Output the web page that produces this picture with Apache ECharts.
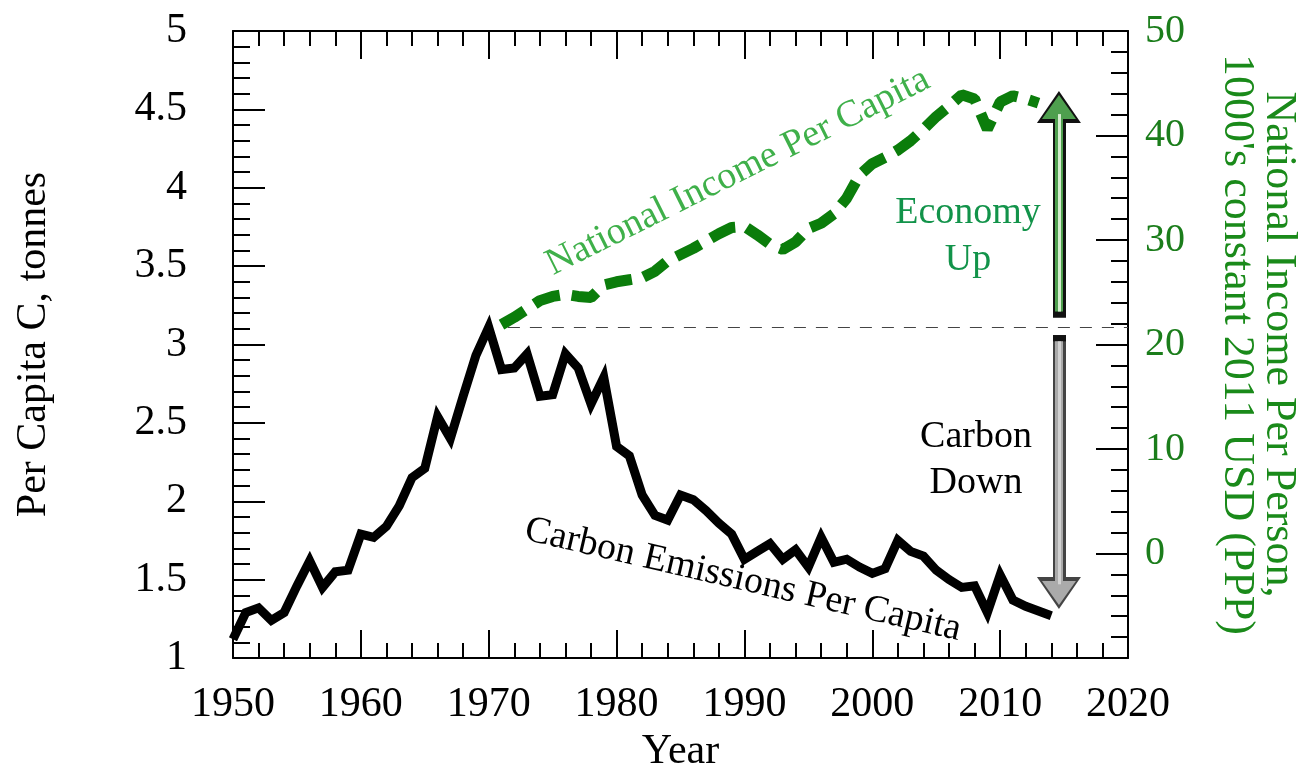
<!DOCTYPE html>
<html>
<head>
<meta charset="utf-8">
<script src="https://cdn.jsdelivr.net/npm/echarts@6/dist/echarts.min.js"></script>
<style>
  html, body { margin: 0; padding: 0; background: #ffffff; }
  #main { width: 1305px; height: 766px; }
</style>
</head>
<body>
<div id="main"></div>
<script>
// carbon emissions per capita, tonnes C (left axis)
var years = [1950, 1951, 1952, 1953, 1954, 1955, 1956, 1957, 1958, 1959,
    1960, 1961, 1962, 1963, 1964, 1965, 1966, 1967, 1968, 1969,
    1970, 1971, 1972, 1973, 1974, 1975, 1976, 1977, 1978, 1979,
    1980, 1981, 1982, 1983, 1984, 1985, 1986, 1987, 1988, 1989,
    1990, 1991, 1992, 1993, 1994, 1995, 1996, 1997, 1998, 1999,
    2000, 2001, 2002, 2003, 2004, 2005, 2006, 2007, 2008, 2009,
    2010, 2011, 2012, 2013, 2014];
var carbon = [1.12, 1.29, 1.32, 1.24, 1.29, 1.46, 1.62, 1.45, 1.55, 1.56,
    1.79, 1.77, 1.84, 1.97, 2.15, 2.21, 2.54, 2.40, 2.67, 2.93,
    3.11, 2.84, 2.85, 2.94, 2.67, 2.68, 2.94, 2.85, 2.62, 2.79,
    2.35, 2.29, 2.04, 1.91, 1.88, 2.04, 2.01, 1.94, 1.86, 1.79,
    1.63, 1.68, 1.73, 1.63, 1.69, 1.58, 1.77, 1.61, 1.63, 1.58,
    1.54, 1.57, 1.75, 1.68, 1.65, 1.56, 1.50, 1.45, 1.46, 1.29,
    1.53, 1.37, 1.33, 1.30, 1.27];

// national income per capita, 1000's 2011 USD (right axis)
var incomeYears = [1971, 1972, 1973, 1974, 1975, 1976, 1977, 1978, 1979,
    1980, 1981, 1982, 1983, 1984, 1985, 1986, 1987, 1988, 1989,
    1990, 1991, 1992, 1993, 1994, 1995, 1996, 1997, 1998, 1999,
    2000, 2001, 2002, 2003, 2004, 2005, 2006, 2007, 2008, 2009,
    2010, 2011, 2012, 2013];
var income = [21.9, 22.6, 23.4, 24.2, 24.6, 24.8, 24.6, 24.5, 25.7,
    26.0, 26.2, 26.4, 27.0, 28.0, 28.6, 29.2, 29.9, 30.6, 31.2,
    31.3, 30.5, 29.6, 29.1, 29.8, 31.1, 31.6, 32.5, 34.0, 36.2,
    37.3, 37.9, 38.6, 39.5, 40.6, 41.8, 42.8, 43.9, 43.5, 40.6,
    43.2, 43.8, 43.5, 43.1];

// reference line + arrows (left axis units)
var peakYear = 1971.5;
var peakCarbon = 3.11;
var arrowYear = 2014.6;
var upArrow = [3.17, 3.21, 4.515, 4.47];     // cap bottom, fill bottom, head centre, highlight top
var downArrow = [3.06, 3.02, 1.415, 1.47];   // cap top, fill top, head centre, highlight end

var serif = '"Liberation Serif", "Times New Roman", serif';

var carbonData = years.map(function (y, i) { return [y, carbon[i]]; });
var incomeData = incomeYears.map(function (y, i) { return [y, income[i]]; });

// one layer of an arrow, drawn as a markLine on an empty series
function arrowLayer(from, to, width, color, head) {
    return {
        type: 'line',
        yAxisIndex: 0,
        data: [],
        silent: true,
        markLine: {
            silent: true,
            animation: false,
            symbol: ['none', head ? 'triangle' : 'none'],
            symbolSize: head || 0,
            label: { show: false },
            emphasis: { disabled: true },
            lineStyle: { color: color, width: width, type: 'solid', cap: 'butt' },
            data: [[{ coord: [arrowYear, from] }, { coord: [arrowYear, to] }]]
        }
    };
}

var chart = echarts.init(document.getElementById('main'));

var option = {
    backgroundColor: '#ffffff',
    animation: false,
    grid: { left: 233, right: 177, top: 31, bottom: 108, outerBoundsMode: 'none' },
    xAxis: [{
        type: 'value',
        min: 1950,
        max: 2020,
        interval: 10,
        name: 'Year',
        nameLocation: 'middle',
        nameGap: 62,
        nameTextStyle: { fontFamily: serif, fontSize: 42, color: '#000' },
        axisLine: { onZero: false, lineStyle: { color: '#000', width: 2 } },
        axisTick: { inside: true, length: 28, lineStyle: { color: '#000', width: 2 } },
        minorTick: { show: true, splitNumber: 5, length: 15, lineStyle: { color: '#000', width: 2 } },
        axisLabel: {
            fontFamily: serif, fontSize: 42, color: '#000', margin: 26,
            formatter: function (v) { return String(v); }
        },
        splitLine: { show: false }
    }, {
        type: 'value',
        position: 'top',
        min: 1950,
        max: 2020,
        interval: 10,
        axisLine: { onZero: false, lineStyle: { color: '#000', width: 2 } },
        axisTick: { inside: true, length: 28, lineStyle: { color: '#000', width: 2 } },
        minorTick: { show: true, splitNumber: 5, length: 15, lineStyle: { color: '#000', width: 2 } },
        axisLabel: { show: false },
        splitLine: { show: false }
    }],
    yAxis: [{
        type: 'value',
        min: 1,
        max: 5,
        interval: 0.5,
        name: 'Per Capita C, tonnes',
        nameLocation: 'middle',
        nameRotate: 90,
        nameGap: 178,
        nameTextStyle: { fontFamily: serif, fontSize: 42, color: '#000' },
        axisLine: { onZero: false, lineStyle: { color: '#000', width: 2 } },
        axisTick: { inside: true, length: 32, lineStyle: { color: '#000', width: 2 } },
        minorTick: { show: true, splitNumber: 5, length: 17, lineStyle: { color: '#000', width: 2 } },
        axisLabel: { fontFamily: serif, fontSize: 42, color: '#000', margin: 46 },
        splitLine: { show: false }
    }, {
        type: 'value',
        position: 'right',
        min: -10,
        max: 50,
        interval: 10,
        name: 'National Income Per Person,\n1000\'s constant 2011 USD (PPP)',
        nameLocation: 'middle',
        nameRotate: -90,
        nameGap: 88,
        nameTextStyle: { fontFamily: serif, fontSize: 44, lineHeight: 42, color: '#1a8a1a' },
        axisLine: { onZero: false, lineStyle: { color: '#000', width: 2 } },
        axisTick: { inside: true, length: 32, lineStyle: { color: '#000', width: 2 } },
        minorTick: { show: true, splitNumber: 5, length: 17, lineStyle: { color: '#000', width: 2 } },
        axisLabel: { fontFamily: serif, fontSize: 40, color: '#1b7d1b', margin: 17, showMinLabel: false },
        splitLine: { show: false }
    }],
    series: [{
        name: 'Carbon Emissions Per Capita',
        type: 'line',
        yAxisIndex: 0,
        data: carbonData,
        showSymbol: false,
        lineStyle: { color: '#000', width: 9, join: 'miter' },
        markLine: {
            silent: true,
            symbol: ['none', 'none'],
            label: { show: false },
            emphasis: { disabled: true },
            lineStyle: { color: '#444', width: 1.2, type: [12, 10] },
            data: [[{ coord: [peakYear, peakCarbon] }, { coord: [2020, peakCarbon] }]]
        }
    }, {
        name: 'National Income Per Capita',
        type: 'line',
        yAxisIndex: 1,
        data: incomeData,
        showSymbol: false,
        lineStyle: { color: '#0b7d0b', width: 11, type: [27, 12], cap: 'butt', join: 'bevel' }
    },
        // Economy Up arrow
        arrowLayer(upArrow[0], upArrow[2], 13, '#111', [44, 32]),
        arrowLayer(upArrow[1], upArrow[2], 8, '#4e9f4e', [34, 24]),
        arrowLayer(upArrow[1], upArrow[3], 3, '#d4ecce'),
        // Carbon Down arrow
        arrowLayer(downArrow[0], downArrow[2], 13, '#444', [44, 32]),
        arrowLayer(downArrow[0], downArrow[1], 13, '#111'),
        arrowLayer(downArrow[1], downArrow[2], 8, '#aaaaaa', [34, 24]),
        arrowLayer(downArrow[1], downArrow[3], 3, '#d2d2d2')
    ],
    graphic: [{
        type: 'text',
        x: 738, y: 172,
        rotation: 0.4625,
        style: {
            text: 'National Income Per Capita',
            font: '38px ' + serif,
            fill: '#3fb04a',
            align: 'center',
            verticalAlign: 'middle'
        }
    }, {
        type: 'text',
        x: 743, y: 580,
        rotation: -0.228,
        style: {
            text: 'Carbon Emissions Per Capita',
            font: '38px ' + serif,
            fill: '#000',
            align: 'center',
            verticalAlign: 'middle'
        }
    }, {
        type: 'text',
        x: 968, y: 237,
        style: {
            text: 'Economy\nUp',
            font: '38px ' + serif,
            lineHeight: 47,
            fill: '#12934a',
            align: 'center',
            verticalAlign: 'middle'
        }
    }, {
        type: 'text',
        x: 976, y: 460,
        style: {
            text: 'Carbon\nDown',
            font: '38px ' + serif,
            lineHeight: 46,
            fill: '#000',
            align: 'center',
            verticalAlign: 'middle'
        }
    }]
};

chart.setOption(option);
</script>
</body>
</html>
